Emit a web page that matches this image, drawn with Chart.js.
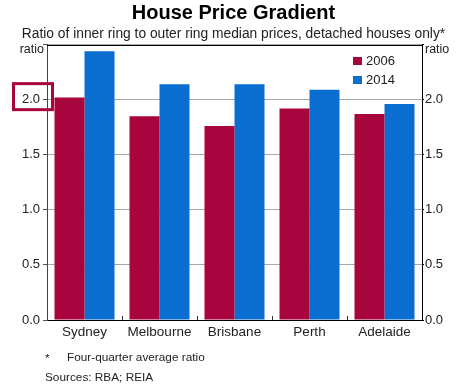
<!DOCTYPE html>
<html>
<head>
<meta charset="utf-8">
<script src="https://cdn.jsdelivr.net/npm/chart.js@4/dist/chart.umd.min.js"></script>
<style>
  html, body { margin: 0; padding: 0; background: #fff; }
  #wrap { width: 467px; height: 388px; position: relative; }
</style>
</head>
<body>
<div id="wrap"><canvas id="c" width="467" height="388"></canvas></div>
<script>
const categories = ['Sydney', 'Melbourne', 'Brisbane', 'Perth', 'Adelaide'];
const values2006 = [2.02, 1.85, 1.76, 1.92, 1.87];
const values2014 = [2.44, 2.14, 2.14, 2.09, 1.96];
const seriesLabels = ['2006', '2014'];
const yTicks = [0, 0.5, 1.0, 1.5, 2.0, 2.5];
const highlightTick = 2.0;
const footnoteMark = '*';
const footnoteText = 'Four-quarter average ratio';
const sourcesText = 'Sources: RBA; REIA';
const unitLabel = 'ratio';

const RED = '#a8053f';
const BLUE = '#0a6ed1';
const FONT = "'Liberation Sans', Arial, sans-serif";

const extras = {
  id: 'extras',
  afterDraw(chart) {
    const ctx = chart.ctx;
    const a = chart.chartArea;
    const y = chart.scales.y;
    const x = chart.scales.x;
    ctx.save();
    // frame top
    ctx.strokeStyle = '#000';
    ctx.lineWidth = 1;
    ctx.beginPath();
    ctx.moveTo(a.left, Math.round(a.top) + 0.5); ctx.lineTo(a.right, Math.round(a.top) + 0.5);
    ctx.stroke();
    // x inner ticks between categories
    ctx.strokeStyle = '#333';
    for (let i = 1; i < categories.length; i++) {
      const px = Math.round((x.getPixelForValue(i - 1) + x.getPixelForValue(i)) / 2) + 0.5;
      ctx.beginPath();
      ctx.moveTo(px, a.bottom); ctx.lineTo(px, a.bottom - 4);
      ctx.stroke();
    }
    // unit labels
    ctx.fillStyle = '#222';
    ctx.font = '12.5px ' + FONT;
    ctx.textBaseline = 'middle';
    ctx.textAlign = 'right';
    ctx.fillText(unitLabel, a.left - 3, a.top + 5);
    ctx.textAlign = 'left';
    ctx.fillText(unitLabel, a.right + 3, a.top + 5);
    // legend
    const ds = chart.data.datasets;
    ds.forEach((d, i) => {
      const ly = 61 + i * 19;
      ctx.fillStyle = d.backgroundColor;
      ctx.fillRect(353, ly - 4, 9, 8);
      ctx.fillStyle = '#222';
      ctx.font = '13px ' + FONT;
      ctx.textAlign = 'left';
      ctx.fillText(d.label, 366, ly);
    });
    // highlight box around tick
    const hy = y.getPixelForValue(highlightTick);
    ctx.strokeStyle = RED;
    ctx.lineWidth = 3;
    ctx.strokeRect(13.5, hy - 16, 39, 26);
    // footnotes
    ctx.fillStyle = '#222';
    ctx.font = '11.8px ' + FONT;
    ctx.textAlign = 'left';
    ctx.fillText(footnoteMark, 45, 359);
    ctx.fillText(footnoteText, 67, 358);
    ctx.fillText(sourcesText, 45, 378);
    ctx.restore();
  }
};

new Chart(document.getElementById('c'), {
  type: 'bar',
  data: {
    labels: categories,
    datasets: [
      { label: seriesLabels[0], data: values2006, backgroundColor: RED, yAxisID: 'y' },
      { label: seriesLabels[1], data: values2014, backgroundColor: BLUE, yAxisID: 'y' }
    ]
  },
  options: {
    responsive: false,
    animation: false,
    layout: { padding: { left: 0, right: 0, top: 0, bottom: 0 } },
    datasets: { bar: { categoryPercentage: 0.8, barPercentage: 1.0 } },
    plugins: {
      legend: { display: false },
      tooltip: { enabled: false },
      title: {
        display: true,
        text: 'House Price Gradient',
        color: '#000',
        font: { family: FONT, size: 20, weight: 'bold' },
        padding: { top: 1, bottom: 0 }
      },
      subtitle: {
        display: true,
        text: 'Ratio of inner ring to outer ring median prices, detached houses only*',
        color: '#222',
        font: { family: FONT, size: 13.8 },
        padding: { top: 1, bottom: 2 }
      }
    },
    scales: {
      x: {
        grid: { display: false, drawTicks: false },
        border: { display: true, color: '#000', width: 1 },
        ticks: { color: '#222', font: { family: FONT, size: 13.5 }, padding: 4 },
        afterFit(s) { s.height = 68; }
      },
      y: {
        position: 'left',
        min: 0, max: 2.5,
        afterBuildTicks(s) { s.ticks = yTicks.map(v => ({ value: v })); },
        ticks: {
          color: '#222', font: { family: FONT, size: 13 }, padding: 3,
          callback: v => (v === 2.5 ? '' : v.toFixed(1))
        },
        grid: { color: '#a8a8a8', tickColor: '#555', tickLength: 4, drawOnChartArea: true },
        border: { display: true, color: '#444', width: 1 },
        afterFit(s) { s.width = 47; }
      },
      y2: {
        position: 'right',
        min: 0, max: 2.5,
        afterBuildTicks(s) { s.ticks = yTicks.map(v => ({ value: v })); },
        ticks: {
          color: '#222', font: { family: FONT, size: 13 }, padding: 1,
          callback: v => (v === 2.5 ? '' : v.toFixed(1))
        },
        grid: { drawOnChartArea: false, tickColor: '#000', tickLength: 2 },
        border: { display: true, color: '#000', width: 1 },
        afterFit(s) { s.width = 45; }
      }
    }
  },
  plugins: [extras]
});
</script>
</body>
</html>
